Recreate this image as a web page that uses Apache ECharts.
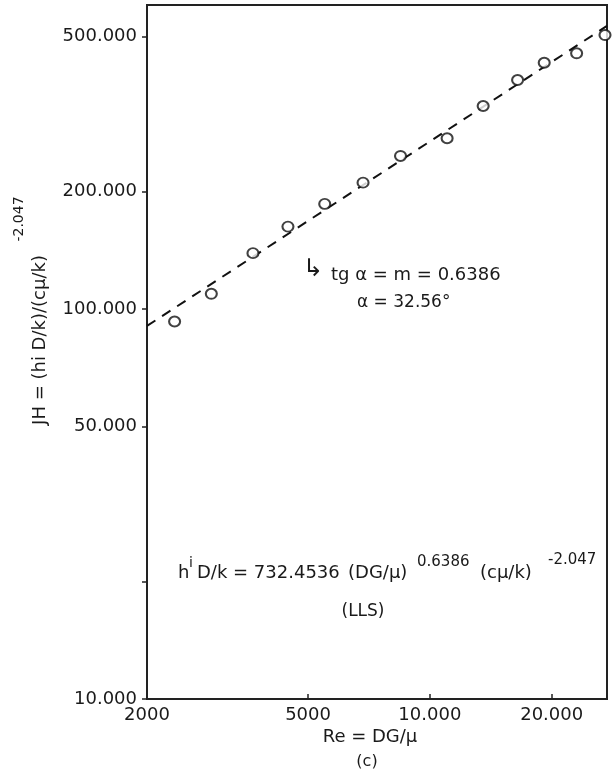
<!DOCTYPE html>
<html>
<head>
<meta charset="utf-8">
<script src="https://cdn.jsdelivr.net/npm/echarts@6/dist/echarts.min.js"></script>
<style>
html,body{margin:0;padding:0;background:#fff;}
#chart{width:612px;height:771px;}
</style>
</head>
<body>
<div id="chart"></div>
<script>
// Data
const reValues = [2340, 2884, 3655, 4460, 5498, 6838, 8463, 11032, 13544, 16475, 19170, 23050, 27090];
const jhValues = [92.9, 109.4, 139.1, 162.7, 186.0, 210.9, 246.9, 274.1, 331.6, 386.6, 428.1, 452.6, 504.2];
const fitRe = [2000, 27400];
const fitJH = [90.5, 532];
const xTickValues = [5000, 10000, 20000];
const xLabelValues = [2000, 5000, 10000, 20000];
const xLabelTexts = ['2000', '5000', '10.000', '20.000'];
const yTickValues = [10, 20, 50, 100, 200, 500];
const yLabelValues = [10, 50, 100, 200, 500];
const yLabelTexts = ['10.000', '50.000', '100.000', '200.000', '500.000'];

const points = reValues.map((v, i) => [v, jhValues[i]]);
const fitLine = fitRe.map((v, i) => [v, fitJH[i]]);
const FONT = 'DejaVu Sans';
const INK = '#222';
const f = (size) => size + 'px "DejaVu Sans"';
function txt(x, y, text, size, extra) {
  return Object.assign({ type: 'text', x: x, y: y,
    style: { text: text, font: f(size), fill: '#1a1a1a', align: 'left', verticalAlign: 'middle' } }, extra || {});
}
function ctxt(x, y, text, size, extra) {
  const t = txt(x, y, text, size, extra); t.style.align = 'center'; return t;
}

const chart = echarts.init(document.getElementById('chart'));
chart.setOption({
  animation: false,
  backgroundColor: '#fff',
  grid: { left: 147, right: 5, top: 5, bottom: 72, show: true, borderColor: INK, borderWidth: 2, backgroundColor: 'transparent' },
  xAxis: {
    type: 'log', logBase: 10, min: 2000, max: 27400,
    axisLine: { lineStyle: { color: INK, width: 2 } },
    axisTick: { show: true, inside: true, length: 5, lineStyle: { color: INK, width: 1.5 }, customValues: xTickValues },
    axisLabel: {
      color: '#1a1a1a', fontFamily: FONT, fontSize: 18, margin: 7,
      customValues: xLabelValues,
      formatter: v => { const i = xLabelValues.findIndex(x => Math.abs(x - v) / x < 1e-6); return i >= 0 ? xLabelTexts[i] : ''; }
    },
    splitLine: { show: false }, minorTick: { show: false }
  },
  yAxis: {
    type: 'log', logBase: 10, min: 10, max: 602,
    axisLine: { lineStyle: { color: INK, width: 2 } },
    axisTick: { show: true, inside: false, length: 5, lineStyle: { color: INK, width: 1.5 }, customValues: yTickValues },
    axisLabel: {
      color: '#1a1a1a', fontFamily: FONT, fontSize: 18, margin: 10,
      customValues: yLabelValues,
      formatter: v => { const i = yLabelValues.findIndex(x => Math.abs(x - v) / x < 1e-6); return i >= 0 ? yLabelTexts[i] : ''; }
    },
    splitLine: { show: false }, minorTick: { show: false }
  },
  series: [
    {
      type: 'line', data: fitLine, symbol: 'none', silent: true,
      lineStyle: { color: '#111', width: 2, type: [10, 8] }, z: 2
    },
    {
      type: 'scatter', data: points, symbol: 'circle', symbolSize: [11, 10],
      itemStyle: { color: '#fff', borderColor: '#111', borderWidth: 2 }, z: 3
    }
  ],
  graphic: [
    ctxt(40, 340, 'JH = (hi D/k)/(cμ/k)', 18, { rotation: Math.PI / 2 }),
    ctxt(19, 219, '-2.047', 14, { rotation: Math.PI / 2 }),
    txt(303, 270, '↳', 24),
    txt(331, 275, 'tg α = m = 0.6386', 18),
    txt(357, 303, 'α = 32.56°', 17),
    txt(178, 573, 'h', 18),
    txt(189, 563, 'i', 14),
    txt(197, 573, 'D/k = 732.4536', 18),
    txt(348, 573, '(DG/μ)', 18),
    txt(417, 562, '0.6386', 15),
    txt(480, 573, '(cμ/k)', 18),
    txt(548, 560, '-2.047', 15),
    ctxt(363, 612, '(LLS)', 17),
    ctxt(370, 737, 'Re = DG/μ', 18),
    ctxt(367, 762, '(c)', 16)
  ]
});
</script>
</body>
</html>
